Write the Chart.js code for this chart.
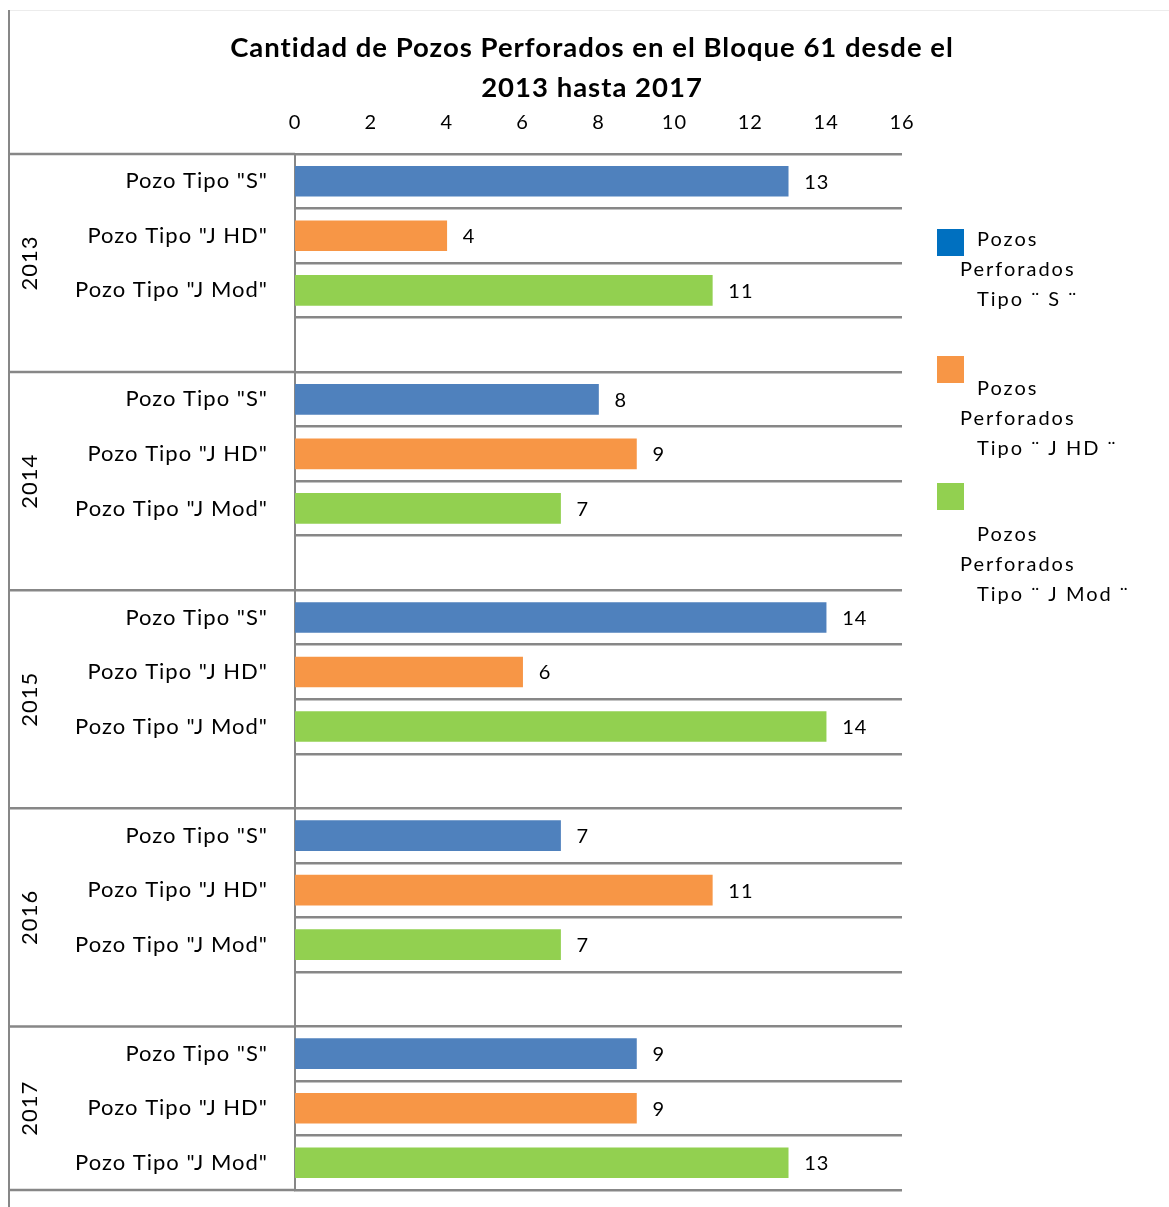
<!DOCTYPE html>
<html>
<head>
<meta charset="utf-8">
<script src="https://cdn.jsdelivr.net/npm/chart.js@4/dist/chart.umd.min.js"></script>
<style>
  html, body { margin: 0; padding: 0; background: #fff; }
  #wrap { position: relative; width: 1169px; height: 1207px; }
</style>
</head>
<body>
<div id="wrap"><canvas id="bar-chart" width="1169" height="1207"></canvas></div>
<script>
const titleLines = ['Cantidad de Pozos Perforados en el Bloque 61 desde el', '2013 hasta 2017'];
const years = ['2013', '2014', '2015', '2016', '2017'];
const types = ['Pozo Tipo "S"', 'Pozo Tipo "J HD"', 'Pozo Tipo "J Mod"'];
const seriesS = [13, 8, 14, 7, 9];
const seriesJHD = [4, 9, 6, 11, 9];
const seriesJMod = [11, 7, 14, 7, 13];
const barColors = ['#4F81BD', '#F79646', '#92D050'];
const legendColors = ['#0070C0', '#F79646', '#92D050'];
const legendText = [
  ['Pozos', 'Perforados', 'Tipo ¨ S ¨'],
  ['Pozos', 'Perforados', 'Tipo ¨ J HD ¨'],
  ['Pozos', 'Perforados', 'Tipo ¨ J Mod ¨']
];
const xMin = 0, xMax = 16, xStep = 2;

const FONT = 'Lato, "Noto Sans", sans-serif';
const GRID = '#878787';

// rows: 3 types per year, blank spacer row between years
const rowLabels = [];
const rowYear = [];
years.forEach((y, i) => {
  types.forEach(t => { rowLabels.push(t); rowYear.push(i); });
  if (i < years.length - 1) { rowLabels.push(''); rowYear.push(i); }
});

function rowData(values, typeIdx) {
  const out = [];
  years.forEach((y, i) => {
    types.forEach((t, k) => out.push(k === typeIdx ? values[i] : null));
    if (i < years.length - 1) out.push(null);
  });
  return out;
}

// wider letter spacing, like the original office font
const spacing = {
  id: 'spacing',
  beforeInit(chart) { chart.ctx.letterSpacing = '1px'; },
  beforeDraw(chart) { chart.ctx.letterSpacing = '1px'; }
};

const valueLabels = {
  id: 'valueLabels',
  afterDatasetsDraw(chart) {
    const ctx = chart.ctx;
    ctx.save();
    ctx.font = '20px ' + FONT;
    ctx.fillStyle = '#000';
    ctx.textBaseline = 'middle';
    ctx.textAlign = 'left';
    chart.data.datasets.forEach((ds, di) => {
      chart.getDatasetMeta(di).data.forEach((el, i) => {
        if (ds.data[i] == null) return;
        ctx.fillText(String(ds.data[i]), el.x + 16, el.y + 1);
      });
    });
    ctx.restore();
  }
};

const frame = {
  id: 'frame',
  afterDraw(chart) {
    const ctx = chart.ctx;
    const area = chart.chartArea;
    const n = rowLabels.length;
    const rowH = (area.bottom - area.top) / n;
    ctx.save();

    // outer frame lines
    ctx.strokeStyle = '#ececec';
    ctx.lineWidth = 1;
    ctx.beginPath();
    ctx.moveTo(9, 10.5); ctx.lineTo(1169, 10.5);
    ctx.stroke();
    ctx.strokeStyle = GRID;
    ctx.lineWidth = 2;
    ctx.beginPath();
    ctx.moveTo(9, 10); ctx.lineTo(9, 1207);
    ctx.stroke();

    // title
    ctx.fillStyle = '#000';
    ctx.font = 'bold 27.5px ' + FONT;
    ctx.textAlign = 'center';
    ctx.textBaseline = 'middle';
    ctx.fillText(titleLines[0], 592, 48);
    ctx.fillText(titleLines[1], 592, 88);

    // year boundaries and year labels
    let start = 0;
    const bounds = [];
    for (let r = 0; r <= n; r++) {
      if (r === n || (r > 0 && rowYear[r] !== rowYear[r - 1])) {
        bounds.push([start, r]);
        start = r;
      }
    }
    ctx.strokeStyle = GRID;
    ctx.lineWidth = 2.5;
    bounds.forEach(([a, b], i) => {
      const yTop = area.top + a * rowH;
      const yBot = area.top + b * rowH;
      ctx.beginPath();
      ctx.moveTo(10, yTop); ctx.lineTo(area.left, yTop);
      if (i === bounds.length - 1) { ctx.moveTo(10, yBot); ctx.lineTo(area.left, yBot); }
      ctx.stroke();
      ctx.save();
      ctx.translate(30, (yTop + yBot) / 2);
      ctx.rotate(-Math.PI / 2);
      ctx.font = '22px ' + FONT;
      ctx.textAlign = 'center';
      ctx.textBaseline = 'middle';
      ctx.fillText(years[i], 0, 0);
      ctx.restore();
    });

    // legend
    const legendTop = [229, 356, 483];
    const textTop = [240, 389, 535];
    ctx.font = '20px ' + FONT;
    ctx.letterSpacing = '2px';
    ctx.textBaseline = 'middle';
    ctx.textAlign = 'left';
    legendColors.forEach((c, i) => {
      ctx.fillStyle = c;
      ctx.fillRect(937, legendTop[i], 27, 27);
      ctx.fillStyle = '#000';
      const lines = legendText[i];
      ctx.fillText(lines[0], 977, textTop[i]);
      ctx.fillText(lines[1], 960, textTop[i] + 30);
      ctx.fillText(lines[2], 977, textTop[i] + 60);
    });
    ctx.restore();
  }
};

const barChart = new Chart(document.getElementById('bar-chart'), {
  type: 'bar',
  data: {
    labels: rowLabels,
    datasets: [
      { label: legendText[0].join(' '), data: rowData(seriesS, 0), backgroundColor: barColors[0] },
      { label: legendText[1].join(' '), data: rowData(seriesJHD, 1), backgroundColor: barColors[1] },
      { label: legendText[2].join(' '), data: rowData(seriesJMod, 2), backgroundColor: barColors[2] }
    ]
  },
  options: {
    indexAxis: 'y',
    responsive: false,
    animation: false,
    grouped: false,
    barThickness: 30,
    layout: { padding: { left: 0, top: 100, right: 267, bottom: 17 } },
    plugins: {
      legend: { display: false },
      title: { display: false },
      tooltip: { enabled: false }
    },
    scales: {
      x: {
        position: 'top',
        min: xMin,
        max: xMax,
        ticks: { stepSize: xStep, color: '#000', font: { family: FONT, size: 20 }, padding: 19 },
        grid: { display: false, drawTicks: false },
        border: { display: false },
        afterFit(scale) { scale.height = 54; }
      },
      y: {
        ticks: { color: '#000', font: { family: FONT, size: 22 }, padding: 27, autoSkip: false },
        grid: { color: GRID, lineWidth: 2.5, drawTicks: false },
        border: { color: GRID, width: 2 },
        afterFit(scale) {
          scale.width = 295;
          scale.paddingTop = 0;
          scale.paddingBottom = 0;
        }
      }
    }
  },
  plugins: [spacing, valueLabels, frame]
});
</script>
</body>
</html>
